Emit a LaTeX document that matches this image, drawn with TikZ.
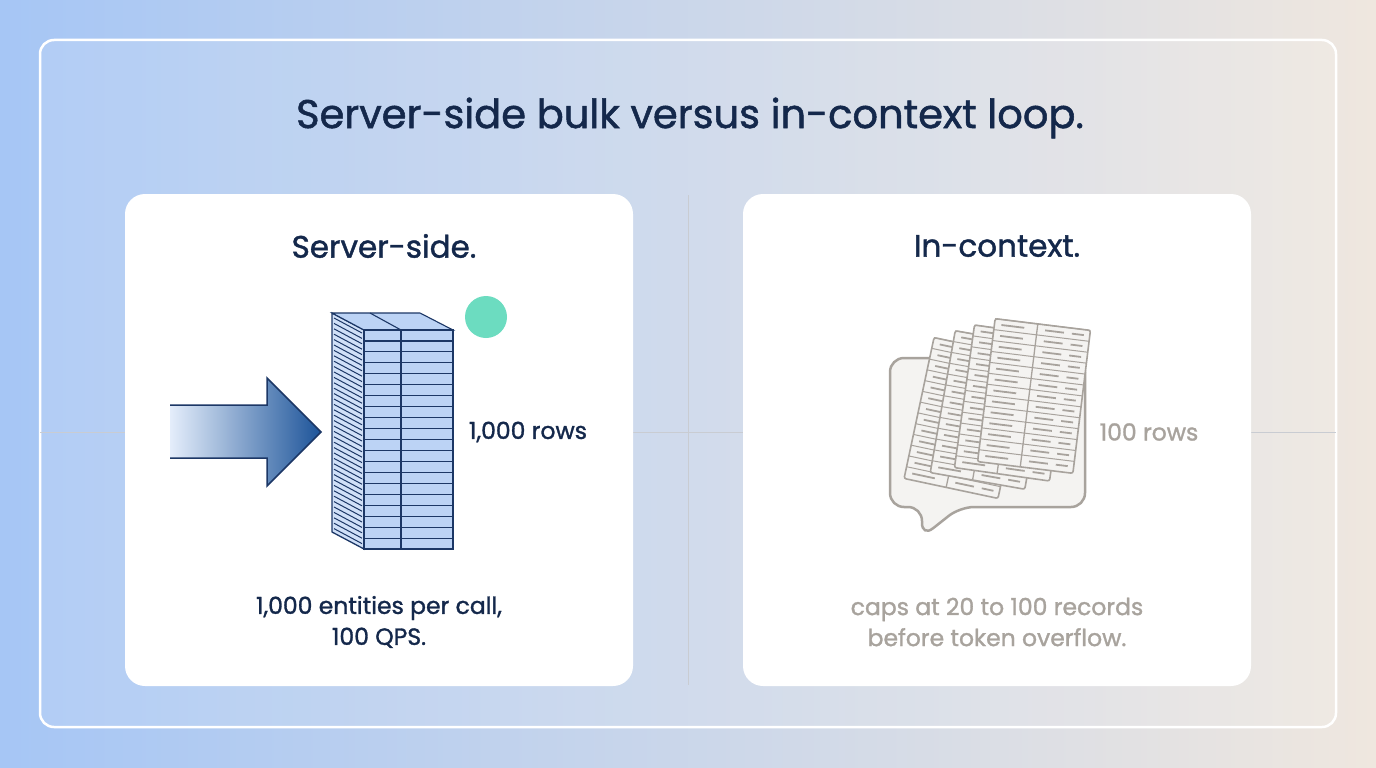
\documentclass[tikz,border=0pt]{standalone}
\usepackage{fontspec}
\setmainfont{Poppins}
\newfontfamily\medf{Poppins}[FakeBold=1.3]
\begin{document}
\begin{tikzpicture}[x=1pt,y=-1pt,
  navy/.style={text=navyc},
  card/.style={fill=white,rounded corners=20pt,draw=none},
  row/.style={draw=stk,line width=1.1pt,fill=stkf},
  pap/.style={draw=grayc,line width=1.6pt,fill=paperf,rounded corners=2pt}]
\definecolor{navyc}{HTML}{14284B}
\definecolor{stk}{HTML}{1C3766}
\definecolor{stkf}{HTML}{BCD3F5}
\definecolor{grayc}{HTML}{A8A39D}
\definecolor{paperf}{HTML}{F4F3F1}
\definecolor{bgl}{HTML}{A6C6F5}
\definecolor{bgr}{HTML}{EFE7DF}
\definecolor{gline}{HTML}{C9CCD2}
\definecolor{arr}{HTML}{1D5499}
\definecolor{teal}{HTML}{6CDCC0}
\useasboundingbox (0,0) rectangle (1376,768);
\shade[left color=bgl,right color=bgr] (0,0) rectangle (1376,768);
\draw[white,line width=2.5pt,fill=white,fill opacity=0.12,rounded corners=14pt] (40,40) rectangle (1336,727);
\draw[gline,line width=0.8pt] (40,432) -- (1336,432);
\draw[gline,line width=0.8pt] (688,195) -- (688,685);
\node[card,minimum width=508pt,minimum height=492pt] (L) at (379,440) {};
\node[card,minimum width=508pt,minimum height=492pt] (R) at (997,440) {};
\node[navy,font=\medf\fontsize{40}{44}\selectfont] (title) at (690,118) {Server-side bulk versus in-context loop.};
\node[navy,font=\medf\fontsize{31}{36}\selectfont] (lt) at (384,246) {Server-side.};
\node[navy,font=\medf\fontsize{31}{36}\selectfont] (rt) at (997,246) {In-context.};
% arrow
\shade[left color=stkf!40!white,right color=arr] (170,405) -- (267,405) -- (267,378) -- (321,432) -- (267,486) -- (267,458) -- (170,458) -- cycle;
\draw[stk,line width=1.5pt] (170,405) -- (267,405) -- (267,378) -- (321,432) -- (267,486) -- (267,458) -- (170,458);
% stack
\fill[stkf!70!white] (332,313) -- (364,330) -- (364,549) -- (332,532) -- cycle;
\foreach \i in {0,...,39}{\draw[stk,line width=1pt] (334,{318+\i*5.4}) -- (362,{333+\i*5.4});}
\draw[stk,line width=1.3pt] (332,313) -- (364,330) -- (364,549) -- (332,532) -- cycle;
\draw[row] (332,313) -- (420,313) -- (453,330) -- (364,330) -- cycle;
\draw[stk,line width=1.1pt] (370,313) -- (401,330);
\foreach \i in {0,...,19}{
  \draw[row] (364,{330+\i*10.95}) rectangle (401,{340.95+\i*10.95});
  \draw[row] (401,{330+\i*10.95}) rectangle (453,{340.95+\i*10.95});}
\fill[teal] (486,317) circle (21pt);
\node[navy,font=\medf\fontsize{23.5}{27}\selectfont] (r1) at (528,432) {1,000 rows};
\node[navy,font=\medf\fontsize{23.5}{31}\selectfont,align=center] (lb) at (379,622) {1,000 entities per call,\\100 QPS.};
% right bubble
\draw[grayc,line width=2.5pt,fill=paperf,rounded corners=14pt]
  (890,358) -- (1085,358) -- (1085,507) -- (960,507) -- (922,537) -- (922,507) -- (890,507) -- cycle;
\foreach \cx/\cy/\a in {966/418/-12,990/410/-10,1012/403/-8,1034/396/-7}{
 \begin{scope}[shift={(\cx,\cy)},rotate=\a]
  \draw[pap] (-48,-72) rectangle (48,72);
  \draw[grayc,line width=1.3pt] (-5,-72) -- (-5,72);
  \foreach \k in {0,...,12}{
    \draw[grayc,line width=1pt] (-48,{-72+11*\k}) -- (48,{-72+11*\k});
    \draw[grayc,line width=1.8pt] (-41,{-66.5+11*\k}) -- (-18,{-66.5+11*\k});
    \draw[grayc,line width=1.8pt] (3,{-66.5+11*\k}) -- (22,{-66.5+11*\k});
    \draw[grayc,line width=1.8pt] (30,{-66.5+11*\k}) -- (42,{-66.5+11*\k});}
 \end{scope}}
\node[text=grayc,font=\medf\fontsize{23.5}{27}\selectfont] (r2) at (1149,432) {100 rows};
\node[text=grayc,font=\medf\fontsize{23.5}{31}\selectfont,align=center] (rb) at (997,622) {caps at 20 to 100 records\\before token overflow.};
\end{tikzpicture}
\end{document}
